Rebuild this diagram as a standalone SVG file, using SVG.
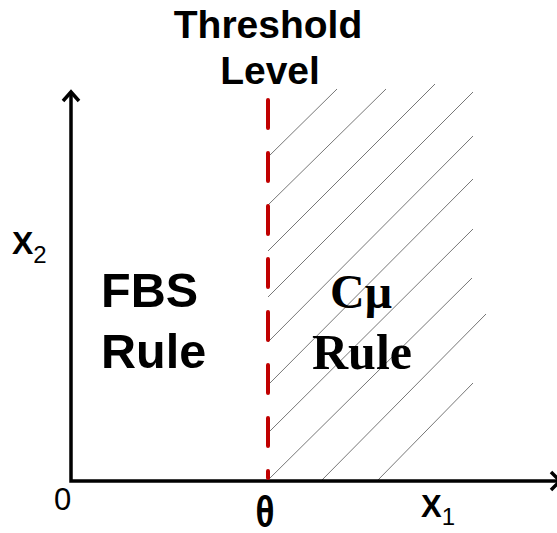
<svg xmlns="http://www.w3.org/2000/svg" width="557" height="533" viewBox="0 0 557 533">
<style>
.sans{font-family:"Liberation Sans",Arial,sans-serif;fill:#000}
.serif{font-family:"Liberation Serif","Times New Roman",serif;fill:#000;font-weight:bold}
.b{font-weight:bold}
.axis{stroke:#000;stroke-width:3.5;fill:none}
.hatch{stroke:#777;stroke-width:1;fill:none}
.thr{stroke:#c00000;stroke-width:4;stroke-dasharray:28 25;stroke-linecap:round;fill:none}
</style>
<rect width="557" height="533" fill="#fff"/>
<g id="hatching">
<line class="hatch" x1="268" y1="157" x2="337" y2="89"/>
<line class="hatch" x1="268" y1="205" x2="386" y2="89"/>
<line class="hatch" x1="268" y1="251" x2="435" y2="84"/>
<line class="hatch" x1="268" y1="297" x2="473" y2="92"/>
<line class="hatch" x1="268" y1="342" x2="473" y2="136"/>
<line class="hatch" x1="268" y1="385" x2="473" y2="179"/>
<line class="hatch" x1="268" y1="433" x2="473" y2="229"/>
<line class="hatch" x1="268" y1="480" x2="472" y2="278"/>
<line class="hatch" x1="322" y1="480" x2="486" y2="314"/>
<line class="hatch" x1="378" y1="480" x2="473" y2="383"/>
</g>
<g id="axes">
<polyline class="axis" points="71,93 71,481 557,481"/>
<polyline class="axis" points="63,101 71,92 79,101"/>
<polyline class="axis" points="551,472 560,481 551,490"/>
</g>
<g id="threshold">
<line class="thr" x1="268" y1="100" x2="268" y2="478"/>
<text class="sans b" x="268" y="38" font-size="39" text-anchor="middle">Threshold</text>
<text class="sans b" x="270" y="84" font-size="39" text-anchor="middle">Level</text>
</g>
<g id="fbs">
<text class="sans b" x="101" y="307" font-size="48.5">FBS</text>
<text class="sans b" x="101" y="368" font-size="48.5">Rule</text>
</g>
<g id="cmu">
<text class="serif" x="361" y="308" font-size="48" text-anchor="middle">Cμ</text>
<text class="serif" x="362" y="369" font-size="50" text-anchor="middle">Rule</text>
</g>
<g id="labels">
<text class="sans b" x="12" y="254" font-size="32">X<tspan font-size="24" font-weight="normal" dy="9">2</tspan></text>
<text class="sans" x="54" y="510" font-size="31">0</text>
<text class="sans b" x="265" y="527" font-size="44" text-anchor="middle" textLength="19" lengthAdjust="spacingAndGlyphs">θ</text>
<text class="sans b" x="421" y="517" font-size="31">X<tspan font-size="24" font-weight="normal" dy="8">1</tspan></text>
</g>
</svg>
